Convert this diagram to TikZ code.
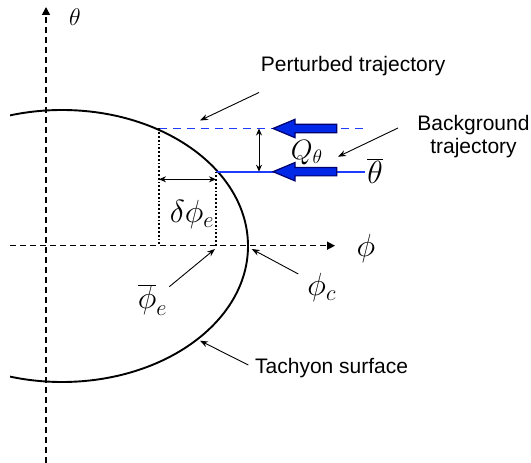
\RequirePackage{fix-cm}
\documentclass[tikz,border=0pt]{standalone}
\usepackage{fontspec}
\setmainfont{Liberation Sans}
\usetikzlibrary{arrows.meta}
\definecolor{trajblue}{RGB}{30,60,255}
\definecolor{fatblue}{RGB}{0,40,230}
\definecolor{fatedge}{RGB}{0,0,110}
\tikzset{
  axis/.style={dash pattern=on 6pt off 4pt,line width=1.5pt,-{Triangle[length=8pt,width=8pt]}},
  pointer/.style={line width=0.9pt,-{Stealth[length=8pt,width=6pt]}},
  gap/.style={line width=1pt,{Stealth[length=7pt,width=6pt]}-{Stealth[length=7pt,width=6pt]}},
  guide/.style={dotted,line width=1.8pt},
  fatarrow/.style={fill=fatblue,draw=fatedge,line width=1.2pt},
  lbl/.style={font=\fontsize{21}{23}\selectfont,inner sep=0pt},
  sym/.style={font=\fontsize{32}{36}\selectfont,inner sep=0pt}
}
\begin{document}
\begin{tikzpicture}[x=1pt,y=1pt]
\useasboundingbox (0,0) rectangle (531,463);
% axes
\coordinate (thetaS) at (46,0);\coordinate (thetaE) at (46,456);
\coordinate (phiS) at (10,217.3);\coordinate (phiE) at (335,217.3);
\draw[axis] (thetaS)--(thetaE);\draw[axis] (phiS)--(phiE);
\node[sym,font=\fontsize{24}{27}\selectfont] (theta) at (75,446.3) {$\theta$};
\node[sym] (phi) at (366,214) {$\phi$};
% tachyon surface
\begin{scope}
\clip (10,0) rectangle (531,463);
\draw[line width=1.9pt] (62,217) ellipse [x radius=186,y radius=136];
\end{scope}
% trajectories
\coordinate (pertS) at (159,334.5);\coordinate (pertE) at (365,334.5);
\coordinate (backS) at (216,291.3);\coordinate (backE) at (365,291.3);
\draw[trajblue,line width=1.9pt,dash pattern=on 8pt off 6pt] (pertS)--(pertE);
\draw[trajblue,line width=1.9pt] (backS)--(backE);
\filldraw[fatarrow] (336.7,338.7)--++(-41.7,0)--++(0,5)--++(-22,-9.2)--++(22,-9.2)--++(0,5)--++(41.7,0)--cycle;
\filldraw[fatarrow] (336.7,295.5)--++(-41.7,0)--++(0,5)--++(-22,-9.2)--++(22,-9.2)--++(0,5)--++(41.7,0)--cycle;
% guides and gaps
\coordinate (pertF) at (159,217.3);\coordinate (backF) at (216,217.3);
\draw[guide] (pertS)--(pertF);\draw[guide] (backS)--(backF);
\coordinate (dA) at (159,283.7);\coordinate (dB) at (216,283.7);\draw[gap] (dA)--(dB);
\coordinate (qA) at (259,334.5);\coordinate (qB) at (259,291.3);\draw[gap] (qA)--(qB);
% labels
\node[sym] (dphi) at (192,248) {$\delta\phi_e$};
\node[sym,font=\fontsize{28}{32}\selectfont] (Q) at (306.7,310.7) {$Q_\theta$};
\node[sym] (thetabar) at (375,292) {$\overline{\theta}$};
\node[sym] (phie) at (152.5,163) {$\overline{\phi}_e$};
\node[sym] (phic) at (321.7,175.5) {$\phi_c$};
\node[lbl,anchor=base west] (pert) at (260.7,391.3) {Perturbed trajectory};
\node[lbl,align=center,anchor=north] (back) at (473.5,348) {Background\\trajectory};
\node[lbl,anchor=base west] (tach) at (255,89.7) {Tachyon surface};
% pointers
\coordinate (p1) at (259,370.5);\coordinate (p2) at (200,342.5);\draw[pointer] (p1)--(p2);
\coordinate (b1) at (398,335);\coordinate (b2) at (338,306.3);\draw[pointer] (b1)--(b2);
\coordinate (e1) at (169.3,176.3);\coordinate (e2) at (215,214);\draw[pointer] (e1)--(e2);
\coordinate (c1) at (298.3,189);\coordinate (c2) at (251.7,214);\draw[pointer] (c1)--(c2);
\coordinate (t1) at (248.3,98);\coordinate (t2) at (200,122.3);\draw[pointer] (t1)--(t2);
\end{tikzpicture}
\end{document}
